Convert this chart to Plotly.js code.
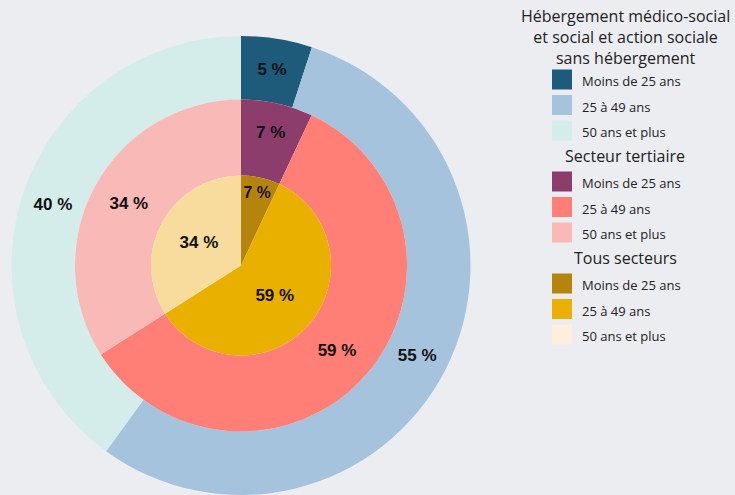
<!DOCTYPE html>
<html>
<head>
<meta charset="utf-8">
<script src="https://cdn.plot.ly/plotly-3.0.1.min.js"></script>
<style>
html, body { margin: 0; padding: 0; background: #ECEDF0; }
#chart { width: 735px; height: 495px; }
</style>
</head>
<body>
<div id="chart"></div>
<script>
// ---- Data ----
const ageGroups = ['Moins de 25 ans', '25 à 49 ans', '50 ans et plus'];
const seriesNames = [
  'Hébergement médico-social<br>et social et action sociale<br>sans hébergement',
  'Secteur tertiaire',
  'Tous secteurs'
];
const hebergementValues = [5, 55, 40];
const tertiaireValues = [7, 59, 34];
const tousSecteursValues = [7, 59, 34];

// ---- Styles ----
const W = 735, H = 495;
const bg = '#ECEDF0';
const outerColors = ['#1E5B7A', '#A6C3DD', '#D4ECEA'];
const middleColors = ['#8C3D6C', '#FF7F77', '#F8B9B7'];
const innerColors = ['#B5840D', '#E9B000', '#F7DC9E'];
const innerLegendColors = ['#B5840D', '#EBB000', '#FCEFDB'];

const cx = 241, cyTop = 265.5;
const cyB = H - cyTop;
function dom(r) {
  return {
    x: [(cx - r) / W, (cx + r) / W],
    y: [Math.max(0, cyB - r) / H, (cyB + r) / H]
  };
}
const rOuter = 229.5, rMid = 166, rIn = 90;

function pieTrace(name, values, colors, domain, hole) {
  return {
    type: 'pie', name: name, values: values, labels: ageGroups,
    sort: false, direction: 'clockwise', rotation: 0, hole: hole,
    domain: domain,
    marker: { colors: colors, line: { width: 0 } },
    texttemplate: '%{value} %', textposition: 'inside',
    insidetextorientation: 'horizontal',
    insidetextfont: { family: 'Liberation Sans, Arial, sans-serif', size: 17, color: '#111', weight: 'bold' },
    showlegend: false, hoverinfo: 'label+value'
  };
}

const traces = [
  pieTrace(seriesNames[0], hebergementValues, outerColors, dom(rOuter), rMid / rOuter),
  pieTrace(seriesNames[1], tertiaireValues, middleColors, dom(rMid), rIn / rMid),
  pieTrace(seriesNames[2], tousSecteursValues, innerColors, dom(rIn), 0)
];

const legendColorSets = [outerColors, middleColors, innerLegendColors];
legendColorSets.forEach(function (cols, gi) {
  ageGroups.forEach(function (a, ai) {
    traces.push({
      type: 'scatter', mode: 'markers', x: [null], y: [null],
      name: '<span style="font-size:13px">' + a + '</span>',
      legendgroup: 'g' + gi, showlegend: true, hoverinfo: 'skip',
      marker: { symbol: 'square', size: 16, color: cols[ai], line: { color: cols[ai], width: 4 } }
    });
  });
});

const titleFont = { family: 'Open Sans, sans-serif', size: 16, color: '#222' };
const titleY = [37, 156.5, 258.3];
const annotations = seriesNames.map(function (t, i) {
  return {
    text: t, xref: 'paper', yref: 'paper', x: 625 / W, y: 1 - titleY[i] / H,
    xanchor: 'center', yanchor: 'middle', showarrow: false, align: 'center', font: titleFont
  };
});

const layout = {
  width: W, height: H,
  margin: { l: 0, r: 0, t: 0, b: 0 },
  paper_bgcolor: bg, plot_bgcolor: bg,
  xaxis: { visible: false }, yaxis: { visible: false },
  showlegend: true,
  legend: {
    x: 542 / W, xanchor: 'left', y: 1 - 61.75 / H, yanchor: 'top',
    traceorder: 'grouped', tracegroupgap: 25.5,
    font: { family: 'Open Sans, sans-serif', size: 17.31, color: '#222' },
    bgcolor: 'rgba(0,0,0,0)', borderwidth: 0
  },
  annotations: annotations
};

Plotly.newPlot('chart', traces, layout, { displayModeBar: false, staticPlot: true });
</script>
</body>
</html>
